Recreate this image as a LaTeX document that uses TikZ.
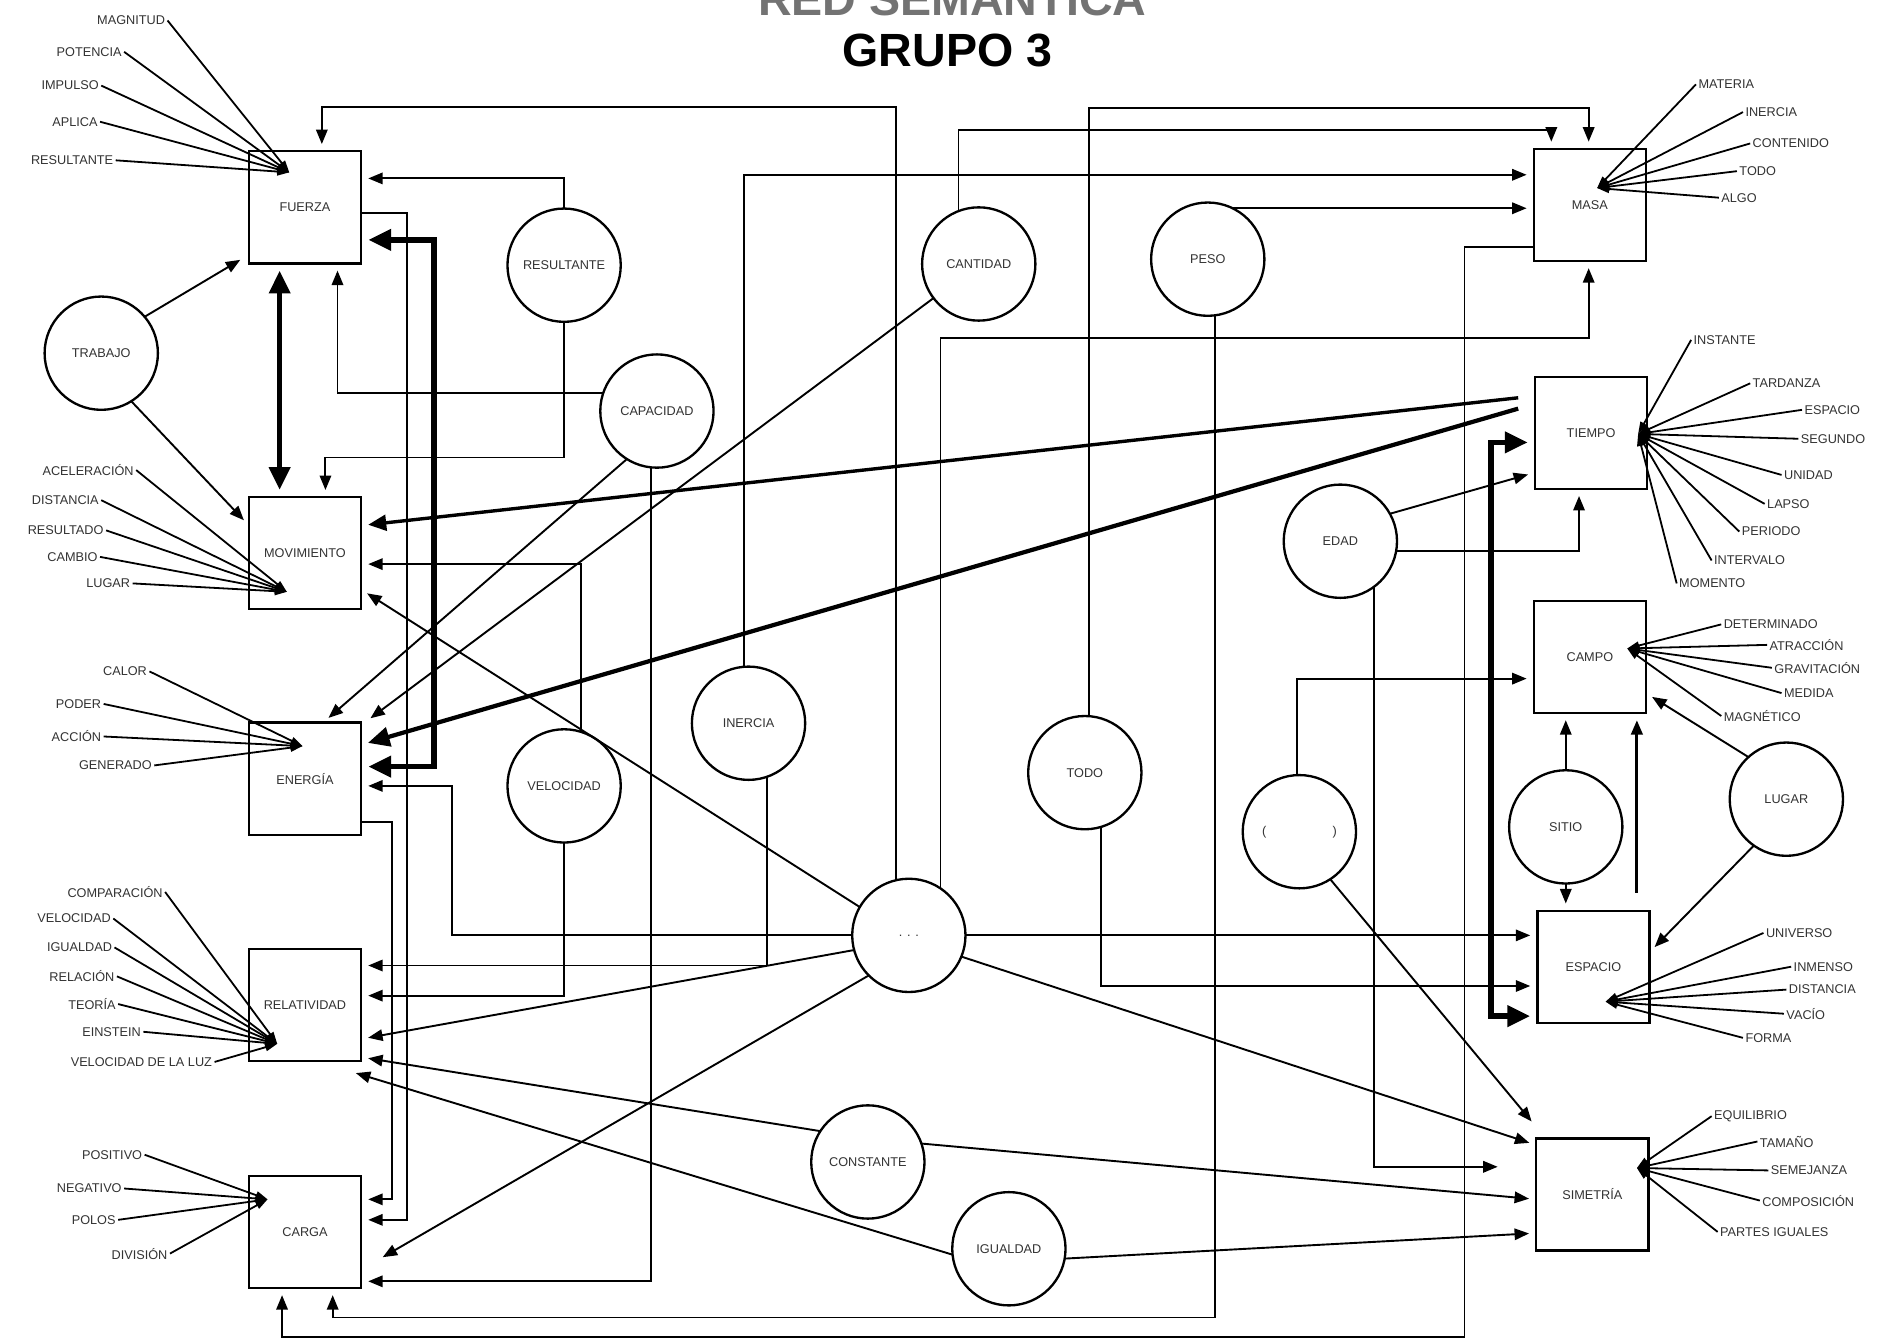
\documentclass[tikz,border=0pt]{standalone}
\usepackage{fontspec}
\setmainfont{Liberation Sans}
\usetikzlibrary{arrows.meta,calc}
\begin{document}
\begin{tikzpicture}[x=0.02cm,y=-0.02cm,
 box/.style={draw,line width=1.1pt,minimum size=1.86cm,inner sep=0pt,outer sep=0pt,font=\fontsize{6}{7}\selectfont,text=black!80},
 circ/.style={draw,circle,line width=1.1pt,minimum size=1.88cm,inner sep=0pt,outer sep=0pt,font=\fontsize{6}{7}\selectfont,text=black!80},
 lab/.style={inner sep=1pt,font=\fontsize{6}{7}\selectfont,text=black!80},
 ln/.style={line width=0.9pt},
 arr/.style={ln,-{Triangle[length=2.4mm,width=1.9mm]},shorten >=1.2mm},
 arrn/.style={ln,-{Triangle[length=2.4mm,width=1.9mm]}},
 marr/.style={line width=1.6pt,-{Triangle[length=3mm,width=2.6mm]},shorten >=1.2mm},
 tarr/.style={line width=2pt,-{Triangle[length=3.6mm,width=3.2mm]},shorten >=1.2mm},
 larr/.style={line width=0.85pt,-{Triangle[length=2mm,width=1.3mm]}},
 thk/.style={line width=2.6pt,{Triangle[length=3.8mm,width=3.4mm]}-{Triangle[length=3.8mm,width=3.4mm]},shorten >=1.2mm,shorten <=1.2mm}
]
\useasboundingbox (0,0) rectangle (1568,1113);
\fill[white] (0,0) rectangle (1568,1113);

% titles
\node[font=\bfseries\fontsize{22}{24}\selectfont,text=black!55,anchor=base] (t1) at (790,13) {RED SEMÁNTICA};
\node[font=\bfseries\fontsize{22}{24}\selectfont,anchor=base] (t2) at (786,55) {GRUPO 3};

% boxes
\node[box] (fuerza) at (253,172) {FUERZA};
\node[box] (mov) at (253,459) {MOVIMIENTO};
\node[box] (energia) at (253,646) {ENERGÍA};
\node[box] (relat) at (253,834) {RELATIVIDAD};
\node[box] (carga) at (253,1022) {CARGA};
\node[box] (masa) at (1319,170) {MASA};
\node[box] (tiempo) at (1320,359) {TIEMPO};
\node[box] (campo) at (1319,545) {CAMPO};
\node[box] (espacio) at (1322,802) {ESPACIO};
\node[box] (simet) at (1321,991) {SIMETRÍA};

% circles
\node[circ] (trabajo) at (84,293) {TRABAJO};
\node[circ] (result) at (468,220) {RESULTANTE};
\node[circ] (capac) at (545,341) {CAPACIDAD};
\node[circ] (cantidad) at (812,219) {CANTIDAD};
\node[circ] (peso) at (1002,215) {PESO};
\node[circ] (inercia) at (621,600) {INERCIA};
\node[circ] (veloc) at (468,652) {VELOCIDAD};
\node[circ] (todo) at (900,641) {TODO};
\node[circ] (centro) at (754,776) {. . .};
\node[circ] (edad) at (1112,449) {EDAD};
\node[circ] (paren) at (1078,690) {(\hspace{1.1cm})};
\node[circ] (sitio) at (1299,686) {SITIO};
\node[circ] (lugar) at (1482,663) {LUGAR};
\node[circ] (konst) at (720,964) {CONSTANTE};
\node[circ] (igual) at (837,1036) {IGUALDAD};

% convergence points
\coordinate (fz) at (240,143);
\coordinate (mz) at (238,491);
\coordinate (ez) at (251,619);
\coordinate (rz) at (230,866);
\coordinate (cz) at (222,995);
\coordinate (maz) at (1325,156);
\coordinate (tz) at (1359,360);
\coordinate (caz) at (1350,538);
\coordinate (esz) at (1332,831);
\coordinate (siz) at (1358,969);

% left labels
\foreach \t/\x/\y [count=\i] in {MAGNITUD/139/17, POTENCIA/103/43, IMPULSO/84/71, APLICA/83/101, RESULTANTE/96/133}
 {\node[lab,anchor=east] (fl\i) at (\x,\y) {\t}; \draw[larr] (fl\i.east) -- (fz);}
\foreach \t/\x/\y [count=\i] in {ACELERACIÓN/113/390, DISTANCIA/84/415, RESULTADO/88/440, CAMBIO/83/462, LUGAR/110/484}
 {\node[lab,anchor=east] (ml\i) at (\x,\y) {\t}; \draw[larr] (ml\i.east) -- (mz);}
\foreach \t/\x/\y [count=\i] in {CALOR/124/557, PODER/86/584, ACCIÓN/86/611, GENERADO/128/635}
 {\node[lab,anchor=east] (el\i) at (\x,\y) {\t}; \draw[larr] (el\i.east) -- (ez);}
\foreach \t/\x/\y [count=\i] in {COMPARACIÓN/137/740, VELOCIDAD/94/762, IGUALDAD/95/786, RELACIÓN/97/810, TEORÍA/98/833, EINSTEIN/119/856, VELOCIDAD DE LA LUZ/178/881}
 {\node[lab,anchor=east] (rl\i) at (\x,\y) {\t}; \draw[larr] (rl\i.east) -- (rz);}
\foreach \t/\x/\y [count=\i] in {POSITIVO/120/958, NEGATIVO/103/986, POLOS/98/1012, DIVISIÓN/141/1040}
 {\node[lab,anchor=east] (cl\i) at (\x,\y) {\t}; \draw[larr] (cl\i.east) -- (cz);}

% right labels
\foreach \t/\x/\y [count=\i] in {MATERIA/1407/70, INERCIA/1446/93, CONTENIDO/1452/119, TODO/1441/142, ALGO/1426/164}
 {\node[lab,anchor=west] (mal\i) at (\x,\y) {\t}; \draw[larr] (mal\i.west) -- (maz);}
\foreach \t/\x/\y [count=\i] in {INSTANTE/1403/282, TARDANZA/1452/318, ESPACIO/1495/340, SEGUNDO/1492/364, UNIDAD/1478/394, LAPSO/1464/418, PERIODO/1443/441, INTERVALO/1420/465, MOMENTO/1391/484}
 {\node[lab,anchor=west] (tl\i) at (\x,\y) {\t}; \draw[larr] (tl\i.west) -- (tz);}
\foreach \t/\x/\y [count=\i] in {DETERMINADO/1428/518, ATRACCIÓN/1466/535, GRAVITACIÓN/1470/554, MEDIDA/1478/575, MAGNÉTICO/1428/594}
 {\node[lab,anchor=west] (kl\i) at (\x,\y) {\t}; \draw[larr] (kl\i.west) -- (caz);}
\foreach \t/\x/\y [count=\i] in {UNIVERSO/1463/774, INMENSO/1486/802, DISTANCIA/1482/821, VACÍO/1480/841, FORMA/1446/861}
 {\node[lab,anchor=west] (sl\i) at (\x,\y) {\t}; \draw[larr] (sl\i.west) -- (esz);}
\foreach \t/\x/\y [count=\i] in {EQUILIBRIO/1420/926, TAMAÑO/1458/947, SEMEJANZA/1467/971, COMPOSICIÓN/1460/996, PARTES IGUALES/1425/1022}
 {\node[lab,anchor=west] (yl\i) at (\x,\y) {\t}; \draw[larr] (yl\i.west) -- (siz);}

% connectors
\draw[arr] (centro.103) |- ($(fuerza.north)+(14,-36.5)$) -- ($(fuerza.north)+(14,0)$);
\draw[arr] (result.north) |- ($(fuerza.north east)+(0,22.5)$);
\draw[arr] ($(fuerza.east)+(0,5)$) -| ($(carga.east)+(38.5,-10)$) -- ($(carga.east)+(0,-10)$);
\draw[thk] ($(fuerza.east)+(0,27)$) -- ($(fuerza.east)+(60.5,27)$) |- ($(energia.east)+(0,-10)$);
\draw[arr] ($(energia.east)+(0,36)$) -- ($(energia.east)+(25.5,36)$) |- ($(carga.east)+(0,-27)$);
\draw[arr] (capac.161) -| ($(fuerza.south)+(27,0)$);
\draw[thk] ($(fuerza.south)+(-21,0)$) -- ($(mov.north)+(-21,0)$);
\draw[arr] (trabajo.40) -- ($(fuerza.south west)+(-2,-6)$);
\draw[arr] (trabajo.-58) -- ($(mov.west)+(0,-23)$);
\draw[arr] (result.south) |- ($(mov.north)+(17,-33)$) -- ($(mov.north)+(17,0)$);
\draw[marr] ($(tiempo.west)+(-14,-29)$) -- ($(mov.east)+(0,-23)$);
\draw[tarr] ($(tiempo.west)+(-14,-20)$) -- ($(energia.east)+(0,-28)$);
\draw[arr] (veloc.73) |- ($(mov.east)+(0,9)$);
\draw[arr] (centro.150) -- ($(mov.east)+(0,30)$);
\draw[arr] (capac.238) -- ($(energia.north)+(15,0)$);
\draw[arr] (cantidad.217) -- ($(energia.north east)+(3,0)$);
\draw[arr] (centro.west) -| ($(energia.east)+(75.5,6)$) -- ($(energia.east)+(0,6)$);
\draw[arr] (centro.east) -- (centro.east -| espacio.west);
\draw[arrn] (centro.225) -- ($(carga.east)+(18,21)$);
\draw[arr] (centro.195) -- ($(relat.east)+(0,28)$);
\draw[arr] (inercia.-71) |- ($(relat.east)+(0,-33)$);
\draw[arr] (inercia.95) |- ($(masa.west)+(0,-25)$);
\draw[arr] (veloc.south) |- ($(relat.east)+(0,-8)$);
\draw[arr] (capac.264) |- ($(carga.east)+(0,41)$);
\draw[arr] (cantidad.111) |- ($(masa.north)+(-32,-16)$) -- ($(masa.north)+(-32,0)$);
\draw[arr] (todo.86) |- ($(masa.north)+(-1,-34)$) -- ($(masa.north)+(-1,0)$);
\draw[arr] (peso.64) -- (peso.64 -| masa.west);
\draw[arr] (peso.-83) |- ($(carga.south)+(23,24.5)$) -- ($(carga.south)+(23,0)$);
\draw[arr] ($(masa.west)+(0,35)$) -- ($(masa.west)+(-57.5,35)$) |- ($(carga.south)+(-19,40.5)$) -- ($(carga.south)+(-19,0)$);
\draw[arr] (centro.56) |- ($(masa.south)+(-1,64)$) -- ($(masa.south)+(-1,0)$);
\draw[thk] ($(tiempo.west)+(0,8)$) -- ($(tiempo.west)+(-36.5,8)$) |- ($(espacio.west)+(0,41)$);
\draw[arr] (edad.29) -- ($(tiempo.west)+(0,33)$);
\draw[arr] (edad.-10) -| ($(tiempo.south)+(-10,0)$);
\draw[arrn] (edad.-54) |- ($(simet.west)+(-32,-23)$);
\draw[arr] (paren.92) |- ($(campo.west)+(0,18)$);
\draw[arr] (paren.-57) -- ($(simet.west)+(0,-56)$);
\draw[arr] (centro.-22) -- ($(simet.west)+(0,-41)$);
\draw[arr] (todo.-73) |- ($(espacio.west)+(0,16)$);
\draw[arr] (sitio.north) -- (sitio.north |- campo.south);
\draw[arr] (sitio.south) -- (sitio.south |- espacio.north);
\draw[arr,line width=1.4pt] ($(espacio.north)+(36,-15)$) -- ($(campo.south)+(39,0)$);
\draw[arr] (lugar.132) -- ($(campo.east)+(0,30)$);
\draw[arr] (lugar.235) -- ($(espacio.east)+(0,-12)$);
\draw[arr] (konst.147) -- ($(relat.east)+(0,43)$);
\draw[arr] (konst.19) -- ($(simet.west)+(0,4)$);
\draw[arr] (igual.186) -- ($(relat.south east)+(-10,8)$);
\draw[arr] (igual.-10) -- ($(simet.west)+(0,32)$);
\end{tikzpicture}
\end{document}
